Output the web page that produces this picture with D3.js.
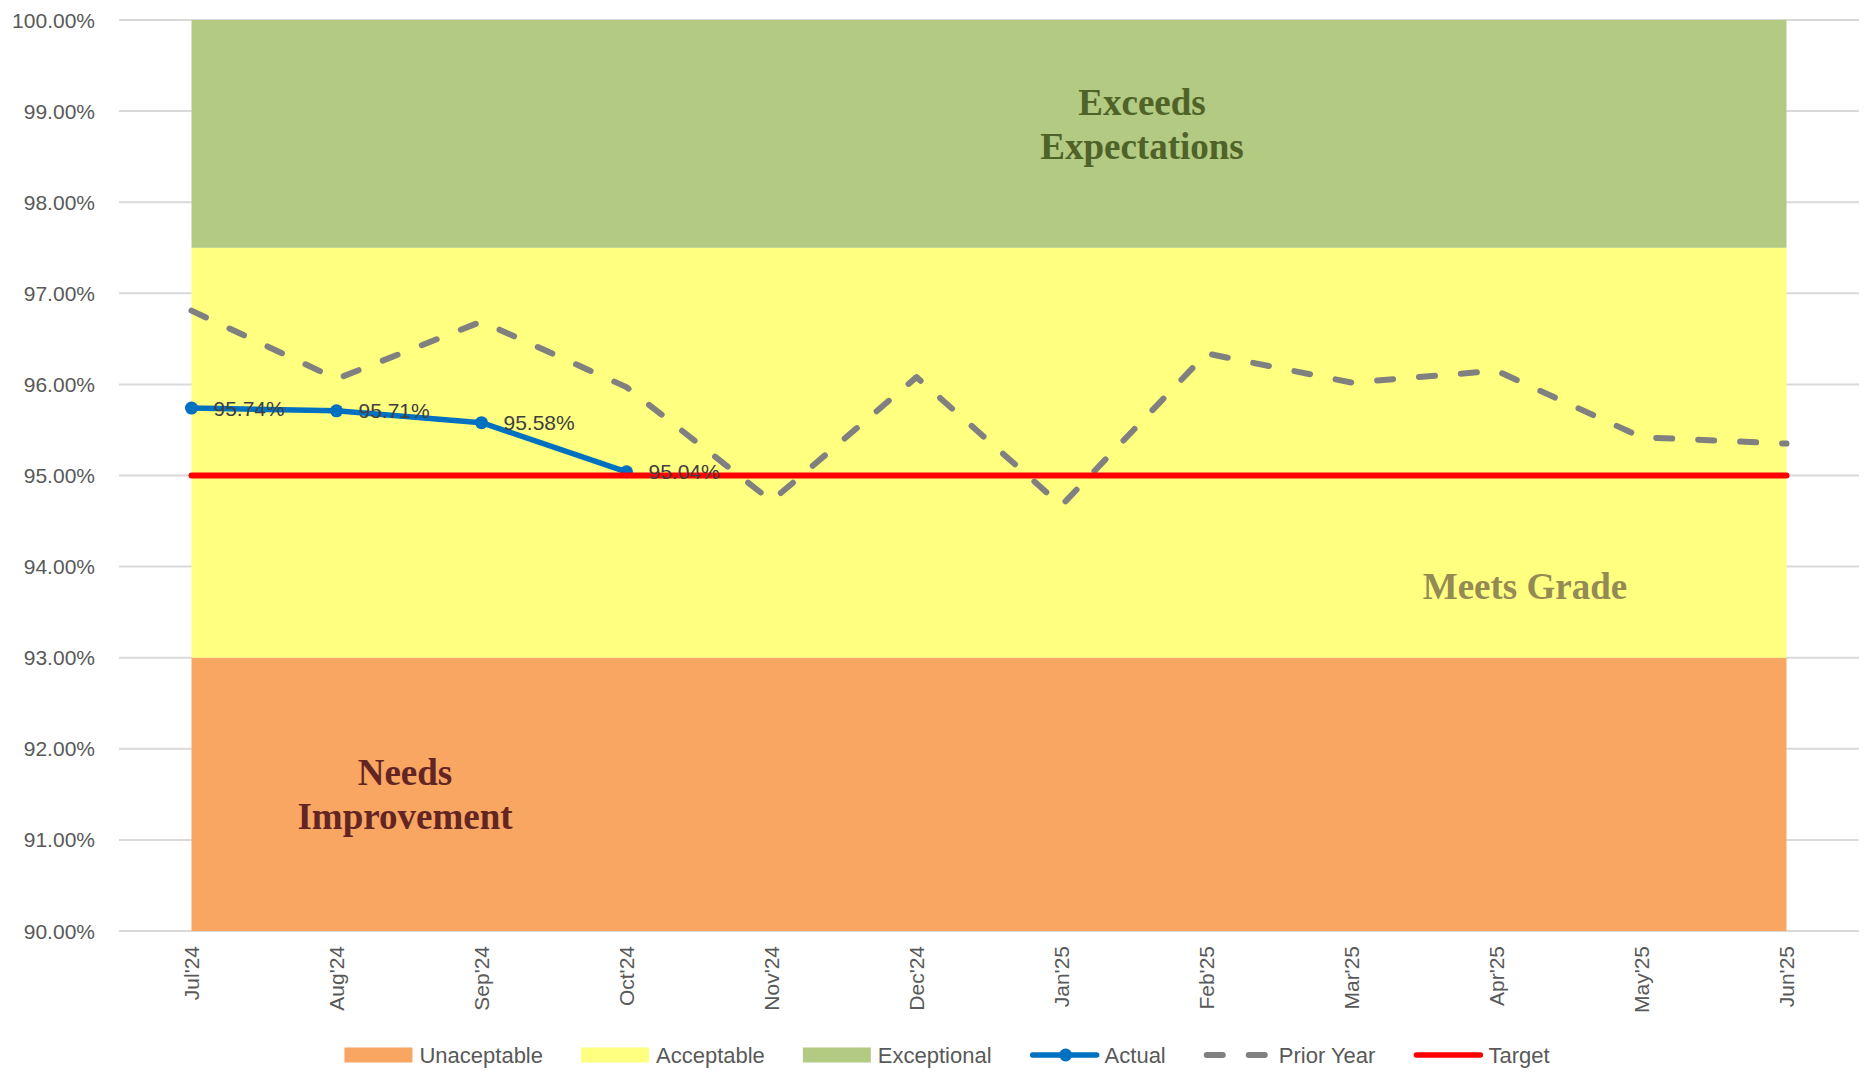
<!DOCTYPE html>
<html>
<head>
<meta charset="utf-8">
<script src="https://cdn.jsdelivr.net/npm/d3@7"></script>
<style>
  body { margin: 0; background: #fff; }
  svg text { font-family: "Liberation Sans", Arial, sans-serif; }
</style>
</head>
<body>
<svg id="chart" width="1874" height="1081"></svg>
<script>
const categories = ["Jul'24", "Aug'24", "Sep'24", "Oct'24", "Nov'24", "Dec'24", "Jan'25", "Feb'25", "Mar'25", "Apr'25", "May'25", "Jun'25"];
const actual = [95.74, 95.71, 95.58, 95.04];
const priorYear = [96.81, 96.06, 96.69, 95.97, 94.72, 96.08, 94.67, 96.34, 96.02, 96.15, 95.42, 95.35];
const target = [95, 95, 95, 95, 95, 95, 95, 95, 95, 95, 95, 95];
// stacked bands (area series)
const unacceptable = [93, 93, 93, 93, 93, 93, 93, 93, 93, 93, 93, 93];
const acceptable = [4.5, 4.5, 4.5, 4.5, 4.5, 4.5, 4.5, 4.5, 4.5, 4.5, 4.5, 4.5];
const exceptional = [2.5, 2.5, 2.5, 2.5, 2.5, 2.5, 2.5, 2.5, 2.5, 2.5, 2.5, 2.5];
const yTicks = [90, 91, 92, 93, 94, 95, 96, 97, 98, 99, 100];

const svg = d3.select("#chart");

const x = d3.scalePoint().domain(categories).range([119, 1859]).padding(0.5);
const y = d3.scaleLinear().domain([90, 100]).range([931, 20]);
const fmt = d3.format(".2f");

// gridlines
svg.append("g")
    .selectAll("line")
    .data(yTicks)
    .enter().append("line")
    .attr("x1", 119).attr("x2", 1859)
    .attr("y1", d => y(d)).attr("y2", d => y(d))
    .style("stroke", "#D9D9D9")
    .style("stroke-width", 2);

// y tick labels
svg.append("g")
    .selectAll("text")
    .data(yTicks)
    .enter().append("text")
    .attr("x", 95)
    .attr("y", d => y(d))
    .attr("text-anchor", "end")
    .attr("dominant-baseline", "central")
    .style("font-size", "21px")
    .style("fill", "#595959")
    .text(d => fmt(d) + "%");

// x tick labels
svg.append("g")
    .selectAll("text")
    .data(categories)
    .enter().append("text")
    .attr("transform", d => `translate(${x(d)},946) rotate(-90)`)
    .attr("text-anchor", "end")
    .attr("dy", "0.35em")
    .style("font-size", "21px")
    .style("fill", "#595959")
    .text(d => d);

// bands
const bandRows = categories.map((c, i) => ({ cat: c, Unacceptable: unacceptable[i], Acceptable: acceptable[i], Exceptional: exceptional[i] }));
const bandKeys = ["Unacceptable", "Acceptable", "Exceptional"];
const bandColor = { Unacceptable: "#F8A662", Acceptable: "#FFFF80", Exceptional: "#B2CA82" };
const stacked = d3.stack().keys(bandKeys)(bandRows);
const yMin = y.domain()[0];

// axis starts at 90%, so the bottom band is cut off there
const area = d3.area()
    .x(d => x(d.data.cat))
    .y0(d => y(Math.max(d[0], yMin)))
    .y1(d => y(d[1]));

svg.append("g")
    .selectAll("path")
    .data(stacked)
    .enter().append("path")
    .attr("d", area)
    .style("fill", d => bandColor[d.key]);

// band captions
const captions = [
    { lines: ["Exceeds", "Expectations"], x: 1142, y: 115, color: "#4F6228" },
    { lines: ["Meets Grade"], x: 1525, y: 599, color: "#948A54" },
    { lines: ["Needs", "Improvement"], x: 405, y: 785, color: "#632523" }
];
captions.forEach(c => {
    const t = svg.append("text")
        .attr("x", c.x)
        .attr("y", c.y)
        .attr("text-anchor", "middle")
        .style("font-family", "'Liberation Serif', 'Times New Roman', serif")
        .style("font-weight", "bold")
        .style("font-size", "37px")
        .style("fill", c.color);
    c.lines.forEach((l, i) => {
        t.append("tspan").attr("x", c.x).attr("dy", i === 0 ? 0 : 44).text(l);
    });
});

const line = d3.line()
    .x((d, i) => x(categories[i]))
    .y(d => y(d));

// prior year
svg.append("path")
    .datum(priorYear)
    .attr("d", line)
    .style("fill", "none")
    .style("stroke", "#808080")
    .style("stroke-width", 6)
    .style("stroke-dasharray", "16,26")
    .style("stroke-linecap", "round")
    .style("stroke-linejoin", "round");

// actual
svg.append("path")
    .datum(actual)
    .attr("d", line)
    .style("fill", "none")
    .style("stroke", "#0070C0")
    .style("stroke-width", 5.5)
    .style("stroke-linejoin", "round");

svg.append("g")
    .selectAll("circle")
    .data(actual)
    .enter().append("circle")
    .attr("cx", (d, i) => x(categories[i]))
    .attr("cy", d => y(d))
    .attr("r", 6.5)
    .style("fill", "#0070C0");

// target
svg.append("path")
    .datum(target)
    .attr("d", line)
    .style("fill", "none")
    .style("stroke", "#FF0000")
    .style("stroke-width", 6)
    .style("stroke-linecap", "round");

// data labels
svg.append("g")
    .selectAll("text")
    .data(actual)
    .enter().append("text")
    .attr("x", (d, i) => x(categories[i]) + 22)
    .attr("y", d => y(d))
    .attr("dominant-baseline", "central")
    .style("font-size", "21px")
    .style("fill", "#404040")
    .text(d => fmt(d) + "%");

// legend
const legendItems = [
    { name: "Unaceptable", type: "swatch", color: bandColor.Unacceptable },
    { name: "Acceptable", type: "swatch", color: bandColor.Acceptable },
    { name: "Exceptional", type: "swatch", color: bandColor.Exceptional },
    { name: "Actual", type: "marker", color: "#0070C0" },
    { name: "Prior Year", type: "dash", color: "#808080" },
    { name: "Target", type: "line", color: "#FF0000" }
];
const legend = svg.append("g");
const ly = 1055;
let lx = 0;
legendItems.forEach(item => {
    const g = legend.append("g").attr("transform", `translate(${lx},0)`);
    if (item.type === "swatch") {
        g.append("rect").attr("x", 0).attr("y", ly - 7.5).attr("width", 68).attr("height", 15).style("fill", item.color);
    } else {
        const l = g.append("line").attr("x1", 3).attr("x2", 67).attr("y1", ly).attr("y2", ly)
            .style("stroke", item.color).style("stroke-width", item.type === "dash" ? 6 : 5.5)
            .style("stroke-linecap", "round");
        if (item.type === "dash") l.style("stroke-dasharray", "16,26");
        if (item.type === "marker") g.append("circle").attr("cx", 36).attr("cy", ly).attr("r", 6.5).style("fill", item.color);
    }
    const t = g.append("text")
        .attr("x", 75)
        .attr("y", ly)
        .attr("dominant-baseline", "central")
        .style("font-size", "22px")
        .style("fill", "#595959")
        .text(item.name);
    lx += 75 + t.node().getComputedTextLength() + 38;
});
const legendWidth = lx - 38;
legend.attr("transform", `translate(${947 - legendWidth / 2},0)`);
</script>
</body>
</html>
